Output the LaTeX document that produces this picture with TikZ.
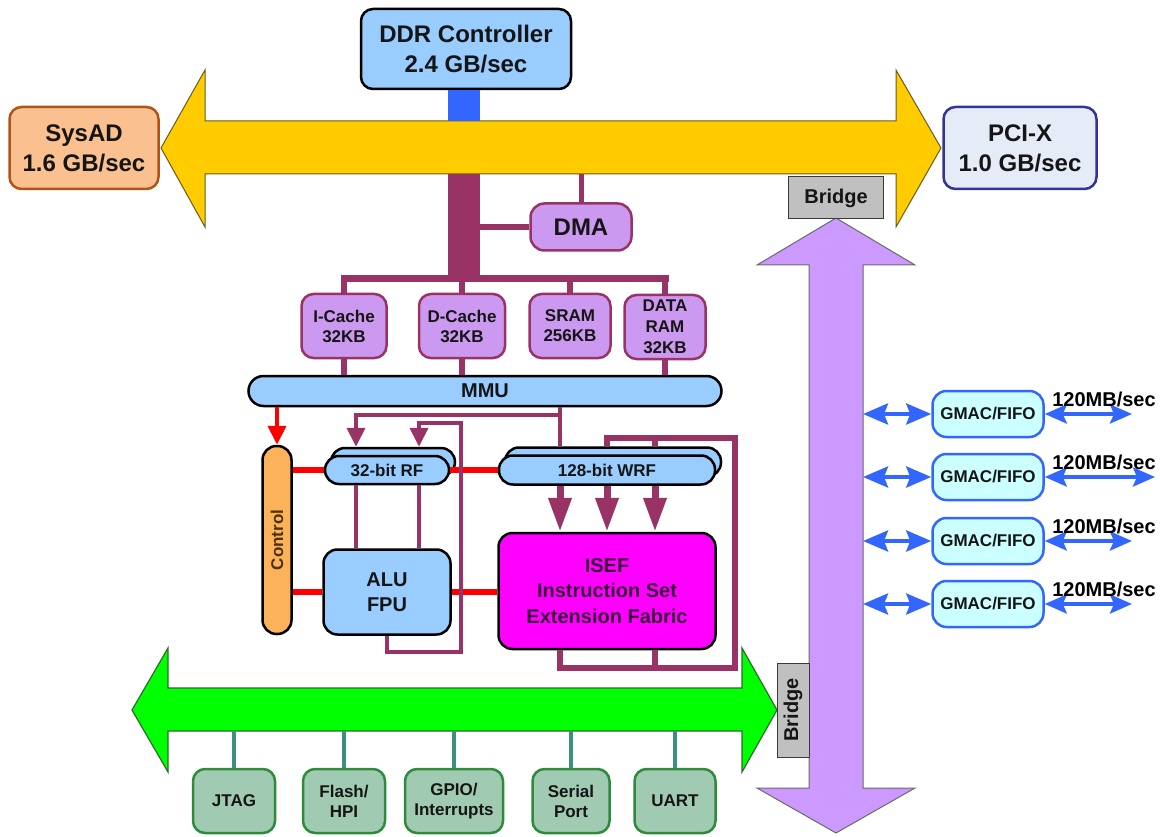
\documentclass[tikz,border=0pt]{standalone}
\usepackage{fontspec}
\setmainfont{Liberation Sans}
\usetikzlibrary{arrows.meta,calc}

\definecolor{txt}{HTML}{151515}
\definecolor{cpublue}{HTML}{99CCFF}
\definecolor{stubblue}{HTML}{3366FF}
\definecolor{busyellow}{HTML}{FFCC00}
\definecolor{yellowline}{HTML}{6B5A1E}
\definecolor{buspurple}{HTML}{CC99FF}
\definecolor{purpleline}{HTML}{6A6A6A}
\definecolor{busgreen}{HTML}{00FF00}
\definecolor{greenline}{HTML}{2A6E2A}
\definecolor{maroon}{HTML}{993366}
\definecolor{memlav}{HTML}{CC99F0}
\definecolor{sysfill}{HTML}{FAC090}
\definecolor{sysline}{HTML}{B0541A}
\definecolor{pcifill}{HTML}{E6ECF7}
\definecolor{pciline}{HTML}{333399}
\definecolor{ctrlfill}{HTML}{FBB25A}
\definecolor{ctrltxt}{HTML}{4A3300}
\definecolor{isefmag}{HTML}{FF00FF}
\definecolor{iseftxt}{HTML}{3A0A3A}
\definecolor{perfill}{HTML}{A0CBB2}
\definecolor{pergreen}{HTML}{2E8B3A}
\definecolor{perstub}{HTML}{3D9080}
\definecolor{gmacfill}{HTML}{CCFFFF}
\definecolor{gblue}{HTML}{3366FF}
\definecolor{bridgegray}{HTML}{C0C0C0}
\definecolor{bridgeline}{HTML}{3A3A3A}

\begin{document}
\begin{tikzpicture}[x=1pt,y=-1pt,>={Stealth},
	box/.style={draw=black, line width=2.5pt, rounded corners=12pt, align=center,
		inner sep=0pt, text=txt, font=\bfseries\fontsize{17}{20}\selectfont},
	big/.style={font=\bfseries\fontsize{24}{30}\selectfont},
	mid/.style={font=\bfseries\fontsize{20}{25}\selectfont},
	cpu/.style={box, fill=cpublue},
	pill/.style={cpu, rounded corners=14pt},
	mem/.style={box, fill=memlav, draw=maroon},
	per/.style={box, fill=perfill, draw=pergreen, minimum height=64pt},
	gmac/.style={box, fill=gmacfill, draw=gblue, minimum width=111pt,
		minimum height=46pt, rounded corners=14pt},
	bridge/.style={draw=bridgeline, line width=1pt, fill=bridgegray, inner sep=0pt,
		text=txt, font=\bfseries\fontsize{20}{24}\selectfont},
	lab/.style={inner sep=0pt, text=black, font=\bfseries\fontsize{20}{24}\selectfont},
	mline/.style={maroon, line width=4pt},
	mthick/.style={maroon, line width=6pt},
	rline/.style={red, line width=6pt},
	gline/.style={gblue, line width=4pt},
	tip/.style={-{Triangle[length=19pt,width=18pt]}}]

\useasboundingbox (0,0) rectangle (1160,837);

% buses
\draw[fill=busyellow, draw=yellowline, line width=1pt] (161,148) -- (205,70) -- (205,121)
	-- (896,121) -- (896,70) -- (941,148) -- (896,227) -- (896,174) -- (205,174)
	-- (205,227) -- cycle;
\draw[fill=buspurple, draw=purpleline, line width=1pt] (836,218) -- (915,265) -- (863,265)
	-- (863,788) -- (915,788) -- (836,833) -- (757,788) -- (809,788) -- (809,265)
	-- (757,265) -- cycle;
\draw[fill=busgreen, draw=greenline, line width=1.2pt] (132,710) -- (168,648) -- (168,688)
	-- (742,688) -- (742,648) -- (777,710) -- (742,772) -- (742,731) -- (168,731)
	-- (168,772) -- cycle;

\coordinate (ytop) at (464,121);
\coordinate (ybot) at (464,174);
\coordinate (bar) at (464,279);
\coordinate (pbus) at (863,500);
\coordinate (gbot) at (450,731);

% outside world
\node[cpu,big,minimum width=210pt,minimum height=80pt] (ddr) at (466,49) {DDR Controller\\2.4 GB/sec};
\node[box,big,fill=sysfill,draw=sysline,minimum width=149pt,minimum height=82pt] (sysad) at (84,148) {SysAD\\1.6 GB/sec};
\node[box,big,fill=pcifill,draw=pciline,minimum width=153pt,minimum height=82pt] (pcix) at (1020,148) {PCI-X\\1.0 GB/sec};
\node[bridge,minimum width=95pt,minimum height=42pt] (br1) at (836,198) {Bridge};
\node[bridge,minimum width=32pt,minimum height=94pt] (br2) at (793,710) {\rotatebox{90}{Bridge}};

\draw[stubblue, line width=32pt] (ytop |- ddr.south) -- (ytop);

% memory side
\node[mem,big,minimum width=101pt,minimum height=47pt,rounded corners=14pt] (dma) at (581,227) {DMA};
\node[mem,minimum width=85pt,minimum height=64pt] (icache) at (344,326) {I-Cache\\32KB};
\node[mem,minimum width=86pt,minimum height=64pt] (dcache) at (462,326) {D-Cache\\32KB};
\node[mem,minimum width=81pt,minimum height=64pt] (sram) at (570,326) {SRAM\\256KB};
\node[mem,minimum width=81pt,minimum height=64pt,font=\bfseries\fontsize{17}{21}\selectfont] (dataram) at (665,327) {DATA\\RAM\\32KB};
\node[pill,mid,minimum width=473pt,minimum height=30pt,rounded corners=15pt] (mmu) at (485,391) {MMU};

\draw[mline,line width=6pt] (dma.west) -- (dma.west -| ybot);
\draw[mline,line width=5pt] (dma.north) -- (dma.north |- ybot);
\draw[maroon, line width=32pt] (ybot) -- (bar);
\draw[maroon, line width=7pt, line cap=rect] (icache.north |- bar) -- (dataram.north |- bar);
\foreach \n in {icache,dcache,sram,dataram}
	\draw[mline,line width=6pt] (\n.north) -- (\n.north |- bar);
\foreach \n in {icache,dcache,dataram}
	\draw[mline,line width=6pt] (\n.south) -- (\n.south |- mmu.north);

% core
\node[pill,minimum width=124pt,minimum height=28pt] (rfb) at (393,462) {};
\node[pill,minimum width=124pt,minimum height=28pt] (rf) at (387,470) {32-bit RF};
\node[pill,minimum width=216pt,minimum height=29pt] (wrfb) at (613,462) {};
\node[pill,minimum width=216pt,minimum height=29pt] (wrf) at (607,470) {128-bit WRF};
\node[box,fill=ctrlfill,text=ctrltxt,minimum width=29pt,minimum height=188pt,rounded corners=14pt] (ctrl) at (277,540) {\rotatebox{90}{Control}};
\node[cpu,mid,minimum width=127pt,minimum height=85pt,rounded corners=14pt] (alu) at (387,592) {ALU\\FPU};
\node[box,fill=isefmag,text=iseftxt,minimum width=217pt,minimum height=116pt,rounded corners=14pt,
	font=\bfseries\fontsize{20}{25.5}\selectfont] (isef) at (607,591) {ISEF\\Instruction Set\\Extension Fabric};

\draw[red, line width=4pt, -{Triangle[length=19pt,width=18pt]}] (mmu.south -| ctrl.north) -- (ctrl.north);
\draw[rline] (rf.west -| ctrl.east) -- (rf.west);
\draw[rline] (rf.east) -- (wrf.west);
\draw[rline] (alu.west -| ctrl.east) -- (alu.west);
\draw[rline] (alu.east) -- (alu.east -| isef.west);

\coordinate (k1) at (560,415);
\coordinate (a1) at (356,500);
\coordinate (a2) at (419,500);
\coordinate (lp1) at (387,652);
\coordinate (lp2) at (461,423);
\coordinate (lt) at (607,438);
\coordinate (lr) at (735,668);
\coordinate (w3) at (655,500);

\draw[mline] (mmu.south -| k1) -- (k1 |- wrfb.north);
\draw[mline,tip] (k1) -| (a1 |- rfb.north);
\draw[mline,tip] (alu.south -| lp1) -- (lp1) -| (lp2) -| (a2 |- rfb.north);
\foreach \c in {a1,a2}
	\draw[mline] (\c |- rf.south) -- (\c |- alu.north);
\draw[mthick] (isef.south -| k1) |- (lr) |- (lt) -- (lt |- wrfb.north);
\draw[mthick] (isef.south -| w3) -- (w3 |- lr);
\draw[mthick] (w3 |- lt) -- (w3 |- wrfb.north);
\foreach \c in {k1,lt,w3}
	\draw[maroon, line width=7pt, -{Triangle[length=34pt,width=22pt]}] (\c |- wrf.south) -- (\c |- isef.north);

% ethernet ports
\foreach \yy/\n/\e in {414/1/1132,477/2/1155,541/3/1132,604/4/1132} {
	\node[gmac] (g\n) at (988,\yy) {GMAC/FIFO};
	\coordinate (o\n) at (\e,\yy);
	\draw[gline,{Stealth[length=25pt,width=21pt,inset=4pt]}-{Stealth[length=25pt,width=21pt,inset=4pt]}] (g\n.west -| pbus) -- (g\n.west);
	\draw[gline,{Stealth[length=22pt,width=19pt,inset=4pt]}-{Stealth[length=22pt,width=19pt,inset=4pt]}] (g\n.east) -- (o\n);
	\node[lab] (r\n) at (1104,\yy-15) {120MB/sec};
}

% peripherals
\node[per,minimum width=82pt] (jtag) at (234,801) {JTAG};
\node[per,minimum width=82pt] (flash) at (344,801) {Flash/\\HPI};
\node[per,minimum width=98pt] (gpio) at (454,801) {GPIO/\\Interrupts};
\node[per,minimum width=77pt] (serial) at (571,801) {Serial\\Port};
\node[per,minimum width=81pt] (uart) at (675,801) {UART};
\foreach \n in {jtag,flash,gpio,serial,uart}
	\draw[perstub, line width=4pt] (\n.north) -- (\n.north |- gbot);
\end{tikzpicture}
\end{document}
